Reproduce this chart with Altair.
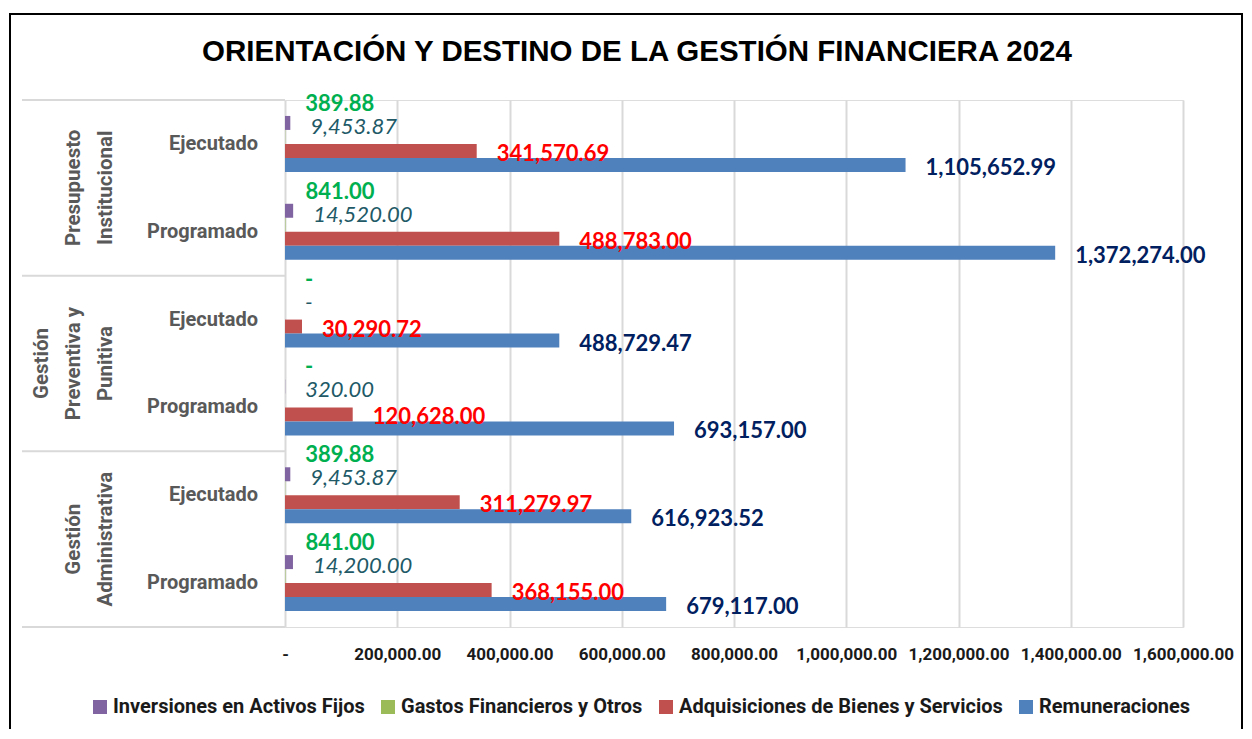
import altair as alt
import pandas as pd

title_text = "ORIENTACIÓN Y DESTINO DE LA GESTIÓN FINANCIERA 2024"
groups = ["Presupuesto Institucional", "Gestión Preventiva y Punitiva", "Gestión Administrativa"]
group_lines = [["Presupuesto", "Institucional"], ["Gestión", "Preventiva y", "Punitiva"], ["Gestión", "Administrativa"]]
stages = ["Ejecutado", "Programado"]
series = ["Inversiones en Activos Fijos", "Gastos Financieros y Otros",
          "Adquisiciones de Bienes y Servicios", "Remuneraciones"]
colors = ["#8064A2", "#9BBB59", "#C0504D", "#4F81BD"]

# order: PI-Ejec, PI-Prog, GPP-Ejec, GPP-Prog, GA-Ejec, GA-Prog
inversiones = [9453.87, 14520.00, 0.0, 320.00, 9453.87, 14200.00]
gastos = [389.88, 841.00, 0.0, 0.0, 389.88, 841.00]
adquisiciones = [341570.69, 488783.00, 30290.72, 120628.00, 311279.97, 368155.00]
remuneraciones = [1105652.99, 1372274.00, 488729.47, 693157.00, 616923.52, 679117.00]
ticks = [0, 200000, 400000, 600000, 800000, 1000000, 1200000, 1400000, 1600000]

COND = "Roboto, Liberation Sans, sans-serif"
LBL = "Lato, Carlito, Calibri, sans-serif"

rows = [f"{g} · {s}" for g in groups for s in stages]
vals = [inversiones, gastos, adquisiciones, remuneraciones]
recs = []
for i, r in enumerate(rows):
    for k, s in enumerate(series):
        v = vals[k][i]
        recs.append({"row": r, "series": s, "value": v,
                     "label": "-" if v == 0 else f"{v:,.2f}"})
df = pd.DataFrame(recs)

stage_df = pd.DataFrame({"row": rows, "stage": [s for g in groups for s in stages]})
grecs = []
for i, lines in enumerate(group_lines):
    n = len(lines)
    for j, ln in enumerate(lines):
        grecs.append({"row": rows[2 * i + 1], "line": ln, "fromEnd": n - 1 - j})
group_df = pd.DataFrame(grecs)
top_df = pd.DataFrame({"row": [rows[0], rows[2], rows[4]]})
bot_df = pd.DataFrame({"row": [rows[5]]})
one_df = pd.DataFrame({"t": [title_text]})

yscale = alt.Scale(domain=rows, paddingInner=0, paddingOuter=0)
# spacer slots above/below the four bars of each row
yoff_scale = alt.Scale(domain=["_top"] + series + ["_bottom"], paddingInner=0, paddingOuter=0.14)
xscale = alt.Scale(domain=[0, 1600000], nice=False)

Y = alt.Y("row:N", scale=yscale, axis=None)
YO = alt.YOffset("series:N", scale=yoff_scale)

bars = alt.Chart(df).mark_bar().encode(
    x=alt.X("value:Q", scale=xscale, title=None,
            axis=alt.Axis(values=ticks, grid=True, domain=False, ticks=False,
                          labelExpr="datum.value == 0 ? '-' : format(datum.value, ',.2f')",
                          labelFont=COND, labelFontSize=17, labelFontWeight="bold",
                          labelColor="#1a1a1a", labelPadding=19, labelOverlap=False,
                          labelFlush=False, labelBound=False,
                          gridColor="#d9d9d9", gridWidth=2)),
    y=Y,
    yOffset=YO,
    color=alt.Color("series:N", sort=series,
                    scale=alt.Scale(domain=series, range=colors),
                    legend=alt.Legend(title=None, orient="none", direction="horizontal",
                                      legendX=-195, legendY=597, columns=4,
                                      symbolType="square", symbolSize=196,
                                      symbolStrokeWidth=0, labelFont=COND,
                                      labelFontSize=20, labelFontWeight="bold",
                                      labelColor="#1a1a1a", labelOffset=3,
                                      columnPadding=13, labelLimit=400)),
)

label_styles = {
    series[0]: dict(color="#215967", fontStyle="italic", fontWeight="normal", dy=4),
    series[1]: dict(color="#00B050", fontStyle="normal", fontWeight="bold", dy=-33),
    series[2]: dict(color="#FF0000", fontStyle="normal", fontWeight="bold", dy=3),
    series[3]: dict(color="#002060", fontStyle="normal", fontWeight="bold", dy=3),
}
label_layers = []
for s in series:
    st = label_styles[s]
    label_layers.append(
        alt.Chart(df).transform_filter(alt.datum.series == s).mark_text(
            align="left", baseline="middle", dx=20, dy=st["dy"], font=LBL, fontSize=22,
            fontWeight=st["fontWeight"], fontStyle=st["fontStyle"], color=st["color"]
        ).encode(x=alt.X("value:Q", scale=xscale), y=Y, yOffset=YO, text="label:N")
    )

seps_top = alt.Chart(top_df).mark_rule(color="#d9d9d9", strokeWidth=2).encode(
    y=alt.Y("row:N", scale=yscale, axis=None, bandPosition=0),
    x=alt.value(-263), x2=alt.value(0))
seps_bot = alt.Chart(bot_df).mark_rule(color="#d9d9d9", strokeWidth=2).encode(
    y=alt.Y("row:N", scale=yscale, axis=None, bandPosition=1),
    x=alt.value(-263), x2=alt.value(0))

stage_text = alt.Chart(stage_df).mark_text(
    align="right", baseline="middle", font=COND, fontSize=20, fontWeight="bold",
    color="#595959").encode(y=Y, x=alt.value(-27), text="stage:N")

group_layers = []
for k in range(3):
    group_layers.append(
        alt.Chart(group_df).transform_filter(alt.datum.fromEnd == k).mark_text(
            align="center", baseline="alphabetic", angle=270,
            font=COND, fontSize=20.5, fontWeight="bold", color="#595959").encode(
            y=alt.Y("row:N", scale=yscale, axis=None, bandPosition=0),
            x=alt.value(-173 - 32 * k), text="line:N")
    )

title = alt.Chart(one_df).mark_text(
    align="center", baseline="middle", font="Liberation Sans, Arial, sans-serif",
    fontSize=29.5, fontWeight="bold", color="#000000").encode(
    x=alt.value(352), y=alt.value(-48), text="t:N")

border = alt.Chart(one_df).mark_rect(fill="transparent", stroke="#000000", strokeWidth=2).encode(
    x=alt.value(-275), x2=alt.value(957), y=alt.value(-86), y2=alt.value(650))

chart = alt.layer(border, seps_top, seps_bot, bars, *label_layers, stage_text,
                  *group_layers, title).properties(
    width=898, height=527,
    autosize=alt.AutoSizeParams(type="none"),
    padding={"left": 277, "top": 92, "right": 61, "bottom": 102},
).configure_view(stroke=None).configure(background="white")

chart.save("out.html", embed_options={"renderer": "svg", "actions": False})
